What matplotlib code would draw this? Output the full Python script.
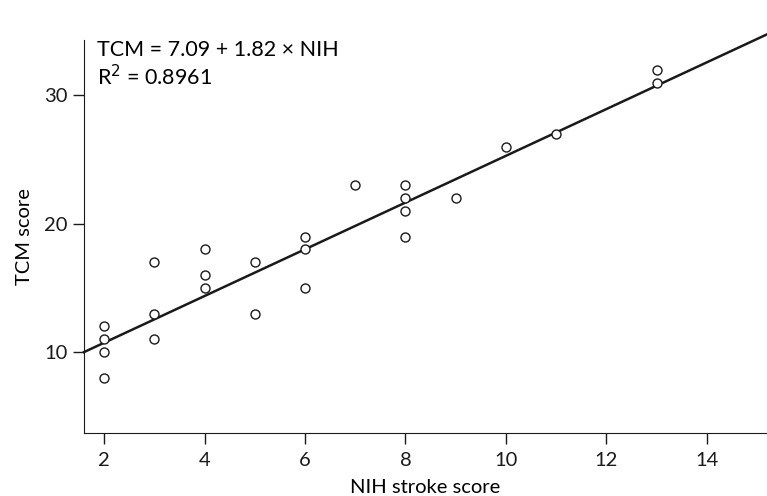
import numpy as np
import matplotlib.pyplot as plt

plt.rcParams['font.family'] = ['Lato', 'DejaVu Sans']

# data
nih = [2, 2, 2, 2, 3, 3, 3, 4, 4, 4, 5, 5, 6, 6, 6, 7, 8, 8, 8, 8, 9, 10, 11, 13, 13]
tcm = [12, 11, 10, 8, 17, 13, 11, 18, 16, 15, 17, 13, 19, 18, 15, 23, 23, 22, 21, 19, 22, 26, 27, 32, 31]
intercept = 7.09
slope = 1.82
xticks = [2, 4, 6, 8, 10, 12, 14]
yticks = [10, 20, 30]

fig = plt.figure(figsize=(7.67, 4.96), dpi=100)
ax = fig.add_axes([0.1095, 0.127, 0.8905, 0.792])

xl = np.array([1.6, 15.25])
ax.plot(xl, intercept + slope*xl, color='#1a1a1a', lw=1.8, zorder=2, clip_on=False)
ax.scatter(nih, tcm, s=42, facecolors='white', edgecolors='#1a1a1a', linewidths=1.0, zorder=3)

ax.set_xlim(1.6, 15.2)
ax.set_ylim(3.7, 34.3)
ax.set_xticks(xticks)
ax.set_yticks(yticks)
ax.spines['top'].set_visible(False)
ax.spines['right'].set_visible(False)
ax.spines['left'].set_color('#1a1a1a')
ax.spines['bottom'].set_color('#1a1a1a')
ax.tick_params(direction='out', length=8, width=1, labelsize=14.5, colors='#1a1a1a')
ax.tick_params(axis='x', pad=6)
ax.tick_params(axis='y', pad=4)
ax.set_xlabel('NIH stroke score', fontsize=14.5, labelpad=7)
ax.set_ylabel('TCM score', fontsize=14.5, labelpad=8)

ax.text(0.019, 1.0, 'TCM = 7.09 + 1.82 \u00d7 NIH\nR$^2$ = 0.8961', transform=ax.transAxes,
        fontsize=15.5, va='top', ha='left', linespacing=1.2)

fig.savefig('out.png', dpi=100)
